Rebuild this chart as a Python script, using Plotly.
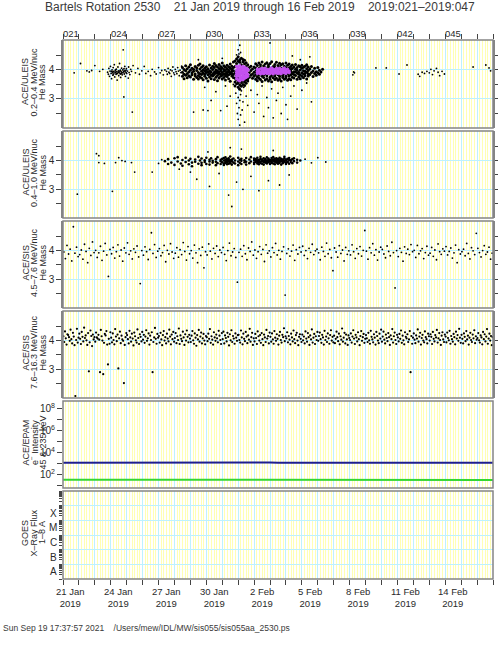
import plotly.graph_objects as go

# ---------------- data ----------------
day_ticks = list(range(21, 49))
top_label_days = [21, 24, 27, 30, 33, 36, 39, 42, 45]
top_labels = ["021", "024", "027", "030", "033", "036", "039", "042", "045"]
bottom_labels = ["21 Jan", "24 Jan", "27 Jan", "30 Jan", "2 Feb", "5 Feb", "8 Feb", "11 Feb", "14 Feb"]
bottom_year = "2019"

# Panel 1: ACE/ULEIS 0.2-0.4 MeV/nuc He mass (day-of-year, mass)
p1_sparse = [
    (21.7, 3.90), (22.1, 4.22), (22.5, 3.97), (22.65, 3.93), (22.8, 3.98), (23.0, 4.15), (23.3, 3.95), (23.5, 4.02),
    (23.80, 3.92), (23.85, 3.85), (23.88, 4.05), (23.92, 3.78), (23.95, 3.96), (23.98, 4.12), (24.02, 3.88), (24.05, 3.70),
    (24.08, 4.00), (24.10, 3.93), (24.13, 3.82), (24.15, 4.08), (24.18, 3.95), (24.20, 3.89), (24.22, 4.18), (24.25, 3.76),
    (24.28, 3.99), (24.30, 3.91), (24.33, 3.85), (24.35, 4.03), (24.38, 3.94), (24.40, 3.65), (24.42, 3.88), (24.45, 4.10),
    (24.48, 3.97), (24.50, 3.80), (24.52, 3.92), (24.55, 4.22), (24.58, 3.87), (24.60, 3.99), (24.62, 3.74), (24.65, 3.94),
    (24.68, 4.06), (24.70, 3.90), (24.72, 3.83), (24.75, 4.00), (24.78, 4.69), (24.80, 3.95), (24.82, 3.07), (24.85, 3.86),
    (24.88, 4.12), (24.90, 3.93), (24.92, 3.78), (24.95, 3.98), (24.98, 4.04), (25.00, 3.88), (25.05, 3.96), (25.10, 3.72),
    (25.12, 4.10), (25.15, 3.91), (25.20, 3.84), (25.25, 4.02), (25.30, 3.95), (25.35, 2.55), (25.40, 4.15),
    (24.03, 3.95), (24.12, 3.90), (24.27, 3.93), (24.37, 3.87), (24.47, 3.92), (24.57, 3.96), (24.67, 3.89), (24.77, 3.91),
    (24.87, 3.97), (24.97, 3.90), (24.17, 3.84), (24.32, 4.01), (24.63, 3.86), (24.83, 4.04),
    (25.55, 3.90), (25.7, 4.05), (25.8, 3.85), (25.95, 3.97), (26.1, 4.12), (26.2, 3.88), (26.35, 3.95), (26.5, 3.80),
    (26.6, 4.02), (26.75, 3.93), (26.85, 3.86), (27.0, 4.08), (27.1, 3.90), (27.2, 3.98), (27.3, 3.83), (27.4, 4.00),
    (27.5, 3.95), (27.55, 3.85), (27.6, 4.05), (27.65, 3.92), (27.7, 3.88), (27.75, 4.00), (27.8, 3.78), (27.85, 3.97),
    (27.9, 4.10), (27.95, 3.90), (28.0, 3.84), (28.05, 4.02), (28.1, 3.94), (28.15, 3.87), (28.2, 4.08), (28.25, 3.96),
    (28.3, 3.80), (28.35, 3.99), (28.4, 3.91), (28.45, 4.13),
    (29.2, 2.55), (29.8, 2.62), (30.1, 2.60), (29.9, 3.40), (30.3, 2.95), (30.6, 3.25), (30.9, 2.60), (31.2, 3.45),
    (31.3, 2.75), (31.5, 3.10), (31.7, 3.50), (31.85, 3.20), (31.9, 2.85), (31.95, 2.50), (32.0, 3.05), (32.0, 2.30),
    (32.05, 2.70), (32.05, 3.35), (32.1, 2.10), (32.1, 2.95), (32.15, 3.15), (32.15, 2.45), (32.2, 3.28), (32.25, 2.62),
    (32.3, 2.90), (32.35, 3.40), (32.4, 2.20), (32.5, 3.10), (32.6, 2.78), (32.8, 3.30), (33.0, 2.55), (33.2, 3.15),
    (33.3, 2.85), (33.5, 3.45), (33.6, 2.40), (33.8, 3.05), (33.9, 2.70), (34.1, 3.35), (34.2, 2.35), (34.4, 2.95),
    (34.5, 3.20), (34.7, 2.50), (34.8, 3.40), (35.0, 2.80), (35.1, 2.30), (35.3, 3.10), (35.5, 3.45), (35.7, 2.65),
    (36.0, 3.30), (36.3, 3.55), (36.6, 2.90),
    (32.0, 4.69), (32.05, 4.55), (31.95, 4.42), (32.1, 4.85), (32.15, 4.60), (31.9, 4.52), (34.0, 4.93), (35.4, 4.48),
    (36.5, 4.45), (35.9, 4.35), (31.0, 4.40), (29.5, 4.35),
    (39.25, 3.93), (39.3, 3.90), (39.2, 3.83), (40.65, 4.07), (41.3, 4.07), (42.1, 3.86), (42.6, 4.17),
    (43.3, 3.85), (43.4, 3.78), (43.55, 3.92), (43.7, 3.88), (43.85, 3.95), (44.0, 3.90), (44.1, 4.02), (44.2, 3.84),
    (44.3, 3.97), (44.45, 4.05), (44.55, 3.92), (44.65, 3.80), (44.8, 3.95), (44.95, 3.86),
    (46.75, 4.10), (47.55, 4.17), (47.75, 4.07), (47.85, 3.97),
]

p1_dense = [
    (28.5, [3.92, 3.78, 4.08]), (28.6, [3.85, 4.01, 3.70]), (28.7, [3.97, 4.14, 3.82]), (28.8, [3.88, 3.73, 4.04]),
    (28.9, [4.10, 3.93, 3.80]), (29.0, [3.76, 3.99, 4.18]), (29.1, [3.90, 3.83, 4.06]), (29.2, [4.02, 3.68, 3.95]),
    (29.3, [3.86, 4.12, 3.79]), (29.4, [3.98, 3.74, 4.07]), (29.5, [3.91, 4.16, 3.81, 3.69]), (29.6, [4.03, 3.87, 3.76, 4.20]),
    (29.7, [3.95, 3.72, 4.09, 3.84]), (29.8, [3.89, 4.14, 3.66, 4.00]), (29.9, [3.78, 3.96, 4.06, 3.85]),
    (30.0, [4.11, 3.91, 3.71, 3.99]), (30.1, [3.83, 4.04, 3.93, 3.62]), (30.2, [3.97, 3.76, 4.17, 3.88]),
    (30.3, [4.07, 3.82, 3.94, 3.70]), (30.4, [3.86, 4.01, 3.79, 4.13]), (30.5, [3.92, 3.67, 4.08, 3.84, 4.22]),
    (30.6, [4.00, 3.75, 3.89, 4.15, 3.95]), (30.7, [3.81, 4.10, 3.63, 3.97, 3.90]), (30.8, [4.05, 3.87, 3.72, 4.19, 3.93]),
    (30.9, [3.96, 3.78, 4.12, 3.85, 4.02]), (31.0, [3.69, 3.91, 4.07, 3.82, 4.24]), (31.1, [4.01, 3.86, 3.74, 4.14, 3.96]),
    (31.2, [3.88, 4.09, 3.65, 3.98, 3.80]), (31.3, [4.16, 3.92, 3.77, 4.04, 3.85]), (31.4, [3.83, 3.99, 4.11, 3.70, 3.94]),
    (31.5, [4.06, 3.87, 3.61, 4.20, 3.90]), (31.6, [3.95, 4.13, 3.79, 3.88, 4.02]), (31.7, [3.74, 3.97, 4.08, 3.84, 4.27]),
    (31.8, [3.58, 4.31, 3.90, 4.12, 3.71, 3.45]), (31.9, [4.38, 3.52, 3.81, 4.22, 3.66, 3.95]),
    (32.0, [3.40, 4.45, 3.63, 4.30, 3.74, 3.55]), (32.1, [4.35, 3.48, 3.86, 4.26, 3.60, 3.33]),
    (32.2, [3.57, 4.40, 3.70, 4.18, 3.44, 4.05]), (32.3, [4.28, 3.62, 3.92, 3.50, 4.36, 3.77]),
    (32.4, [3.46, 4.21, 3.68, 4.33, 3.85, 3.58]), (32.5, [4.25, 3.73, 3.54, 4.12, 3.95, 3.65]),
    (32.6, [3.80, 4.18, 3.62, 4.02, 3.70]), (32.7, [3.90, 4.08, 3.75]), (32.8, [3.98, 3.82, 4.13]),
    (32.9, [3.86, 4.03, 3.71]), (33.0, [4.10, 3.92, 3.78]), (33.1, [3.84, 4.06, 3.95, 3.68, 4.21]),
    (33.2, [4.15, 3.76, 3.99, 3.88, 3.63]), (33.3, [3.93, 4.24, 3.71, 4.05, 3.82]), (33.4, [3.67, 4.09, 3.89, 4.18, 3.96]),
    (33.5, [4.02, 3.78, 4.27, 3.85, 3.60]), (33.6, [3.91, 4.14, 3.74, 4.00, 3.83]), (33.7, [4.20, 3.87, 3.65, 4.08, 3.96]),
    (33.8, [3.80, 4.03, 4.25, 3.70, 3.93]), (33.9, [4.11, 3.89, 3.62, 3.98, 4.17]), (34.0, [3.86, 4.22, 3.75, 4.04, 3.68]),
    (34.1, [4.07, 3.94, 3.81, 4.28, 3.59]), (34.2, [3.73, 4.12, 3.90, 4.01, 3.84]), (34.3, [4.19, 3.67, 3.97, 3.79, 4.09]),
    (34.4, [3.92, 4.26, 3.71, 4.05, 3.88]), (34.5, [3.64, 4.00, 4.15, 3.83, 3.95]), (34.6, [4.10, 3.77, 3.91, 4.23, 3.69]),
    (34.7, [3.85, 4.06, 3.62, 3.99, 4.18]), (34.8, [4.02, 3.74, 4.21, 3.88, 3.80]), (34.9, [3.95, 4.13, 3.68, 4.04, 3.87]),
    (35.0, [3.78, 4.08, 3.93, 4.24, 3.72]), (35.1, [4.16, 3.86, 3.64, 3.98, 4.03]), (35.2, [3.91, 4.20, 3.79, 4.07, 3.70]),
    (35.3, [3.83, 3.97, 4.12, 3.66, 4.01]), (35.4, [4.05, 3.75, 3.90, 4.17, 3.87]), (35.5, [3.94, 4.10, 3.72, 3.84]),
    (35.6, [3.81, 4.02, 4.19, 3.93]), (35.7, [4.08, 3.89, 3.68, 3.99]), (35.8, [3.76, 4.14, 3.92, 3.85]),
    (35.9, [4.00, 3.83, 4.11, 3.70]), (36.0, [3.90, 4.06, 3.78, 4.16]), (36.1, [3.86, 3.97, 4.09, 3.73]),
    (36.2, [4.13, 3.80, 3.95, 3.88]), (36.3, [3.92, 4.04, 3.69, 4.18]), (36.4, [3.79, 3.98, 4.10, 3.87]),
    (36.5, [4.03, 3.84]), (36.6, [3.91, 4.12]), (36.7, [3.77, 3.96]), (36.8, [4.06, 3.88]), (36.9, [3.94, 3.82]),
    (37.0, [4.08, 3.90]), (37.1, [3.85, 3.99]), (37.2, [3.93]), (37.3, [4.02]),
]

p1_magenta = [
    (31.9, [3.70, 3.85, 4.00, 4.12, 3.92, 3.78]), (32.0, [3.65, 3.80, 3.95, 4.10, 4.05, 3.88]),
    (32.1, [3.72, 3.90, 4.15, 3.83, 4.02, 3.62]), (32.2, [3.68, 3.87, 3.98, 4.08, 3.76, 3.94]),
    (32.3, [3.75, 3.92, 4.12, 3.84, 4.04, 3.66]), (32.4, [3.71, 3.89, 4.01, 4.09, 3.79, 3.96]),
    (32.5, [3.82, 3.95, 4.06, 3.74, 3.90]), (32.6, [3.86, 3.99, 3.78, 4.03]),
    (33.2, [3.95, 4.03, 3.88]), (33.3, [3.90, 4.00, 3.97]), (33.4, [4.04, 3.92, 3.86]), (33.5, [3.96, 3.89, 4.05]),
    (33.6, [4.01, 3.93, 3.87]), (33.7, [3.91, 4.06, 3.98]), (33.8, [3.94, 4.02, 3.88]), (33.9, [4.00, 3.90, 3.96]),
    (34.0, [3.87, 4.04, 3.93]), (34.1, [3.98, 3.91, 4.07]), (34.2, [4.03, 3.95, 3.86]), (34.3, [3.92, 4.00, 3.97]),
    (34.4, [3.89, 4.05, 3.94]), (34.5, [4.01, 3.96, 3.88]), (34.6, [3.93, 4.06, 3.90]), (34.7, [3.97, 3.87, 4.02]),
    (34.8, [4.04, 3.92, 3.95]), (34.9, [3.90, 3.99, 4.07]), (35.0, [3.95, 3.88, 4.01]), (35.1, [4.03, 3.93]),
    (35.2, [3.96, 3.91]),
]

# Panel 2: ACE/ULEIS 0.4-1.0 MeV/nuc He mass
p2_sparse = [
    (21.9, 2.83), (23.1, 4.24), (23.25, 4.17), (23.25, 3.93), (23.6, 3.90), (24.1, 2.93), (24.3, 3.93), (24.5, 4.10),
    (24.7, 4.00), (24.9, 3.97), (25.3, 3.93), (25.5, 3.60), (26.6, 3.60), (27.0, 3.90), (27.2, 4.03),
    (29.4, 3.35), (30.2, 3.10), (30.8, 3.55), (31.4, 2.80), (31.6, 2.40), (31.9, 3.25), (32.3, 3.00), (32.8, 3.45),
    (33.3, 2.95), (33.9, 3.30), (34.6, 3.15), (35.2, 3.50), (29.0, 3.60), (28.3, 3.70),
    (31.5, 4.45), (32.2, 4.40), (34.2, 4.35), (30.1, 4.30),
    (36.2, 4.05), (36.6, 3.92), (37.0, 4.10), (37.5, 3.95),
]
p2_dense = [
    (27.4, [3.98]), (27.6, [4.05, 3.88]), (27.8, [3.93]), (28.0, [4.08, 3.85]), (28.2, [3.97, 4.12]), (28.4, [3.90]),
    (28.5, [4.02, 3.82]), (28.7, [3.95, 4.10]), (28.9, [3.87, 4.00]), (29.0, [4.06]), (29.1, [3.93, 3.80]),
    (29.3, [4.04, 3.96]), (29.5, [3.89, 4.13]), (29.6, [4.00]), (29.7, [3.92, 3.84, 4.07]), (29.9, [4.01, 3.95]),
    (30.0, [3.88, 4.10]), (30.2, [3.97, 4.03, 3.86]), (30.3, [4.08]), (30.4, [3.93, 3.99]), (30.6, [4.05, 3.84, 3.96]),
    (30.7, [4.12, 3.91]), (30.9, [3.98, 4.03, 3.88]), (31.0, [3.94, 4.06]), (31.1, [4.00, 3.90, 4.09, 3.85]),
    (31.2, [3.96, 4.03, 3.92, 4.11]), (31.3, [3.99, 3.87, 4.05, 3.94]), (31.4, [4.02, 3.97, 3.89, 4.08]),
    (31.5, [3.95, 4.01, 4.14, 3.91]), (31.6, [3.98, 4.04, 3.86]), (31.7, [4.07, 3.93]), (31.8, [3.90, 4.00]),
    (32.0, [3.97, 4.10, 3.84]), (32.1, [4.03, 3.92]), (32.2, [3.88, 4.06, 3.99]), (32.4, [4.01, 3.94]),
    (32.5, [3.86, 4.09, 3.96]), (32.7, [4.04, 3.91]), (32.8, [3.97, 4.12]), (33.0, [3.93, 4.02, 3.88, 4.07]),
    (33.1, [3.99, 3.95, 4.05]), (33.2, [4.01, 3.90, 4.10, 3.96]), (33.3, [3.94, 4.03, 3.87, 4.00]),
    (33.4, [4.06, 3.97, 3.92, 4.13]), (33.5, [3.98, 4.02, 3.89, 4.04]), (33.6, [3.95, 4.08, 3.99, 3.86]),
    (33.7, [4.01, 3.93, 4.05, 3.97]), (33.8, [3.90, 4.00, 4.11, 3.96]), (33.9, [4.03, 3.94, 3.98, 4.07]),
    (34.0, [3.97, 4.02, 3.88, 4.00]), (34.1, [4.09, 3.95, 4.01, 3.92]), (34.2, [3.99, 4.04, 3.90, 4.12]),
    (34.3, [3.96, 4.00, 4.06, 3.87]), (34.4, [4.02, 3.93, 3.98, 4.08]), (34.5, [3.94, 4.05, 4.00, 3.89]),
    (34.6, [4.01, 3.97, 4.10, 3.92]), (34.7, [3.98, 4.03, 3.86, 4.06]), (34.8, [4.04, 3.95, 4.00, 3.91]),
    (34.9, [3.96, 4.07, 3.99, 4.13]), (35.0, [4.00, 3.92, 4.04, 3.88]), (35.1, [3.97, 4.06, 3.94]),
    (35.2, [4.02, 3.89, 4.09]), (35.3, [3.95, 4.01]), (35.4, [4.05, 3.91]), (35.5, [3.98, 4.08]),
    (35.7, [3.93, 4.03]), (35.9, [4.00]),
]

# Panel 3: ACE/SIS 4.5-7.6 MeV/nuc He mass, one row of readings per day (21 .. 47)
p3_rows = [
    [3.95, 3.72, 4.18, 3.88, 4.05, 3.64, 4.83, 3.91, 4.12, 3.79],
    [3.86, 4.02, 3.70, 4.22, 3.97, 3.58, 4.08, 3.83, 4.30, 3.93],
    [4.01, 3.76, 3.92, 4.15, 3.66, 3.98, 4.25, 3.85, 3.10, 4.04],
    [3.89, 4.11, 3.74, 3.96, 4.20, 3.81, 4.02, 3.63, 4.09, 3.92],
    [4.27, 3.87, 3.99, 3.71, 4.06, 3.94, 4.16, 3.78, 2.85, 4.00],
    [3.84, 4.13, 3.96, 3.69, 4.04, 4.62, 3.90, 4.21, 3.76, 3.98],
    [4.07, 3.82, 3.93, 4.18, 3.61, 4.01, 3.88, 4.24, 3.95, 3.73],
    [3.91, 4.10, 3.77, 4.03, 3.86, 4.28, 3.97, 3.67, 4.14, 3.89],
    [4.00, 3.74, 4.19, 3.92, 3.58, 4.06, 3.83, 4.12, 3.40, 3.96],
    [3.85, 4.23, 3.98, 3.71, 4.08, 3.90, 4.16, 3.79, 4.02, 3.93],
    [4.11, 3.87, 3.65, 4.00, 4.26, 3.82, 3.95, 4.07, 3.76, 2.90],
    [3.94, 4.05, 3.80, 4.17, 3.89, 3.68, 4.09, 3.97, 4.30, 3.84],
    [4.02, 3.73, 3.96, 4.14, 3.87, 4.04, 3.62, 4.20, 3.91, 3.99],
    [3.78, 4.10, 3.93, 4.25, 3.85, 4.01, 3.70, 3.97, 4.13, 2.45],
    [3.90, 4.06, 3.81, 3.98, 4.19, 3.66, 4.03, 3.88, 4.11, 3.95],
    [4.15, 3.83, 4.00, 3.72, 4.08, 3.94, 4.22, 3.86, 3.99, 4.05],
    [3.92, 3.68, 4.12, 3.97, 3.80, 4.26, 3.89, 4.04, 3.75, 3.30],
    [4.09, 3.95, 3.77, 4.17, 3.90, 4.02, 3.64, 4.11, 3.87, 3.99],
    [3.85, 4.20, 3.96, 3.73, 4.07, 3.89, 4.14, 3.81, 4.01, 4.70],
    [3.98, 3.70, 4.10, 3.92, 4.24, 3.84, 4.03, 3.67, 3.95, 4.12],
    [4.04, 3.88, 3.75, 4.16, 3.97, 3.82, 4.29, 3.93, 2.70, 4.00],
    [3.79, 4.08, 3.94, 3.63, 4.13, 3.90, 4.05, 3.86, 4.21, 3.96],
    [4.01, 3.76, 4.18, 3.89, 3.99, 4.07, 3.72, 3.93, 4.15, 3.84],
    [3.91, 4.11, 3.80, 4.02, 3.68, 4.23, 3.96, 3.87, 4.06, 3.98],
    [4.14, 3.85, 3.97, 4.09, 3.74, 3.92, 4.19, 3.58, 4.03, 3.88],
    [3.96, 4.05, 3.82, 4.25, 3.90, 3.71, 4.10, 3.99, 3.86, 4.60],
    [4.08, 3.93, 3.78, 4.00, 4.17, 3.87, 3.95, 4.12, 3.70, 3.91],
]

# Panel 4: ACE/SIS 7.6-16.3 MeV/nuc He mass, one row of readings per day (21 .. 47)
p4_rows = [
    [4.15, 3.95, 4.32, 4.08, 3.86, 4.22, 4.19, 4.12, 3.99, 4.38, 4.05, 3.90, 4.27, 4.14, 3.84, 2.07, 4.02, 4.41, 3.93, 4.10],
    [4.24, 4.06, 3.88, 4.30, 4.13, 3.97, 4.45, 4.09, 4.18, 4.01, 3.85, 4.26, 2.93, 3.94, 4.35, 4.16, 3.81, 4.21, 4.04, 4.12],
    [3.96, 4.28, 4.11, 4.07, 4.20, 4.03, 2.90, 4.37, 4.15, 4.00, 2.83, 3.92, 4.23, 4.18, 4.33, 3.86, 3.17, 4.06, 3.89, 4.29],
    [4.10, 3.94, 4.25, 4.02, 3.87, 4.40, 4.14, 3.98, 4.21, 3.03, 4.08, 4.31, 3.91, 4.17, 4.04, 3.99, 2.52, 3.85, 4.12, 4.26],
    [4.19, 4.05, 3.90, 4.34, 4.11, 3.96, 4.24, 4.07, 3.83, 4.28, 4.15, 4.01, 3.93, 4.39, 4.09, 3.88, 4.22, 4.13, 3.97, 4.30],
    [4.03, 4.20, 3.92, 4.14, 4.36, 3.99, 4.08, 4.25, 3.86, 4.17, 4.02, 4.29, 2.90, 3.95, 4.11, 4.44, 4.06, 3.89, 4.23, 4.10],
    [4.16, 3.93, 4.27, 4.04, 3.84, 4.19, 4.33, 4.00, 4.12, 3.90, 4.24, 4.07, 3.97, 4.38, 4.14, 3.87, 4.21, 4.05, 4.30, 3.96],
    [4.09, 4.26, 3.91, 4.15, 4.02, 4.42, 3.88, 4.18, 4.06, 3.98, 4.31, 4.11, 3.85, 4.22, 4.00, 4.35, 4.13, 3.94, 4.20, 4.07],
    [3.95, 4.17, 4.33, 4.01, 3.89, 4.25, 4.10, 3.82, 4.19, 4.04, 4.37, 3.96, 4.14, 4.28, 3.90, 4.08, 4.23, 4.00, 3.87, 4.16],
    [4.12, 3.98, 4.24, 4.06, 4.40, 3.92, 4.15, 4.03, 3.86, 4.29, 4.11, 3.99, 4.21, 4.08, 3.94, 4.34, 4.17, 4.02, 3.88, 4.26],
    [4.05, 4.31, 3.90, 4.18, 4.09, 3.97, 4.27, 4.13, 3.83, 4.22, 4.01, 4.36, 3.95, 4.16, 4.07, 3.89, 4.25, 4.10, 3.99, 4.19],
    [4.20, 4.02, 3.93, 4.35, 4.11, 3.87, 4.24, 4.06, 3.98, 4.30, 4.14, 3.91, 4.18, 4.03, 4.41, 3.96, 4.12, 4.27, 3.85, 4.08],
    [3.97, 4.23, 4.09, 3.88, 4.32, 4.15, 4.00, 4.19, 3.92, 4.26, 4.05, 3.84, 4.21, 4.11, 3.95, 4.37, 4.07, 4.16, 3.90, 4.28],
    [4.13, 3.96, 4.25, 4.04, 3.89, 4.33, 4.10, 3.99, 4.22, 4.06, 3.86, 4.17, 4.30, 4.02, 3.93, 4.20, 4.12, 4.43, 3.98, 4.15],
    [4.08, 4.29, 3.94, 4.16, 4.03, 3.87, 4.24, 4.11, 3.97, 4.35, 4.05, 3.91, 4.19, 4.27, 4.00, 3.84, 4.13, 4.22, 4.06, 3.95],
    [4.21, 4.01, 4.14, 3.90, 4.32, 4.07, 3.96, 4.26, 4.12, 3.85, 4.18, 4.04, 4.39, 3.93, 4.10, 4.23, 3.88, 4.15, 4.02, 4.30],
    [3.99, 4.16, 4.28, 4.05, 3.92, 4.20, 4.11, 3.86, 4.34, 4.02, 4.14, 3.95, 4.25, 4.08, 3.89, 4.19, 4.36, 4.00, 4.13, 3.94],
    [4.17, 3.91, 4.06, 4.31, 4.12, 3.98, 4.24, 3.87, 4.15, 4.03, 4.42, 3.96, 4.10, 4.27, 3.90, 4.21, 4.04, 3.85, 4.18, 4.09],
    [4.02, 4.25, 3.93, 4.14, 4.36, 4.07, 3.88, 4.20, 4.11, 3.97, 4.29, 4.05, 3.84, 4.16, 4.33, 3.99, 4.12, 4.23, 3.92, 4.06],
    [4.19, 4.08, 3.95, 4.27, 4.01, 3.89, 4.34, 4.13, 4.04, 3.94, 4.22, 4.10, 3.86, 4.30, 4.16, 4.00, 3.91, 4.24, 4.07, 4.38],
    [3.96, 4.14, 4.31, 4.03, 3.90, 4.21, 4.09, 3.98, 4.26, 4.12, 3.85, 4.18, 4.05, 4.40, 3.93, 4.15, 4.28, 4.02, 3.88, 4.20],
    [4.11, 3.97, 4.23, 4.06, 4.35, 3.92, 4.17, 4.01, 3.87, 4.29, 4.13, 4.08, 4.22, 3.95, 4.04, 4.33, 2.90, 4.16, 3.89, 4.10],
    [4.25, 4.03, 3.91, 4.18, 4.07, 4.39, 3.96, 4.14, 4.27, 3.86, 4.09, 4.20, 4.00, 3.94, 4.32, 4.12, 4.05, 3.90, 4.24, 4.15],
    [4.00, 4.22, 4.13, 3.88, 4.30, 4.06, 3.97, 4.19, 4.11, 4.37, 3.93, 4.08, 4.26, 4.02, 3.85, 4.17, 4.29, 4.04, 3.95, 4.21],
    [4.14, 3.94, 4.28, 4.09, 4.01, 4.34, 3.89, 4.16, 4.05, 3.96, 4.23, 4.12, 3.87, 4.31, 4.07, 4.19, 3.99, 4.41, 4.10, 3.92],
    [4.20, 4.06, 3.90, 4.25, 4.13, 3.98, 4.33, 4.04, 4.17, 3.86, 4.10, 4.27, 4.02, 3.95, 4.21, 4.08, 4.36, 3.91, 4.15, 4.03],
    [4.09, 4.26, 4.01, 3.93, 4.18, 4.11, 3.87, 4.30, 4.05, 4.22, 3.97, 4.14, 4.40, 3.89, 4.07, 4.24, 4.00, 4.16, 3.84, 4.12],
]

# Panel 5: ACE/EPAM electron intensity, readings every half day from 21 Jan 00:00
p5_blue = [1250, 1260, 1240, 1270, 1230, 1180, 1200, 1220, 1250, 1260, 1280, 1300, 1290, 1270, 1260, 1300,
           1320, 1310, 1290, 1280, 1270, 1260, 1250, 1270, 1290, 1300, 1280, 1260, 1250, 1240, 1230, 1250,
           1270, 1260, 1250, 1240, 1230, 1250, 1260, 1280, 1300, 1330, 1290, 1200, 1180, 1210, 1240, 1250,
           1260, 1240, 1230, 1250, 1260, 1250, 1240]
p5_green = [36, 36, 35, 36, 36, 33, 33, 34, 33, 33, 34, 34, 33, 33, 34, 34, 33, 34, 34, 33, 33, 34, 34, 33,
            33, 34, 34, 33, 34, 34, 33, 33, 34, 34, 33, 34, 34, 33, 33, 34, 34, 33, 33, 34, 34, 33, 34, 34,
            33, 33, 34, 34, 33, 34, 34]

goes_labels = ["A", "B", "C", "M", "X"]
goes_label_log = [-8.5, -7.5, -6.5, -5.5, -4.5]

panel_titles = [
    ["ACE/ULEIS", "0.2\u20130.4 MeV/nuc", "He Mass"],
    ["ACE/ULEIS", "0.4\u20131.0 MeV/nuc", "He Mass"],
    ["ACE/SIS", "4.5\u20137.6 MeV/nuc", "He Mass"],
    ["ACE/SIS", "7.6\u201316.3 MeV/nuc", "He Mass"],
    ["ACE/EPAM", "e<sup>\u2212</sup> Intensity", "45 & 235 keV"],
    ["GOES", "X\u2013Ray Flux", "1\u20138 A"],
]

title_text = "Bartels Rotation 2530    21 Jan 2019 through 16 Feb 2019    2019:021\u20132019:047"
footer_text = "Sun Sep 19 17:37:57 2021    /Users/mew/IDL/MW/sis055/sis055aa_2530.ps"

# ---------------- layout geometry ----------------
W, H = 498, 647
L, R, T, B = 63, 493, 40, 579
panels_px = [(40, 128), (131, 218), (221, 308), (311, 398), (401, 488), (491, 579)]


def xp(px):
    return (px - L) / (R - L)


def yp(py):
    return (B - py) / (B - T)


FONT = "Liberation Sans, Arial, sans-serif"
TXT = "#2a2a2a"
CYAN = "#bdf1ff"
YEL = "#ffffb4"
FRAME = "#858585"
TICK = "#444444"


def expand(cols):
    xs, ys = [], []
    for d, vals in cols:
        for v in vals:
            xs.append(d)
            ys.append(v)
    return xs, ys


def rows_to_xy(rows, first_day=21):
    xs, ys = [], []
    for i, row in enumerate(rows):
        n = len(row)
        for j, v in enumerate(row):
            xs.append(first_day + i + (j + 0.5) / n)
            ys.append(v)
    return xs, ys


fig = go.Figure()
dot = dict(color="black", size=1.8, line=dict(width=0))

# panel 1
x, y = zip(*p1_sparse)
fig.add_trace(go.Scatter(x=x, y=y, mode="markers", marker=dot, xaxis="x", yaxis="y"))
x, y = expand(p1_dense)
fig.add_trace(go.Scatter(x=x, y=y, mode="markers", marker=dict(color="black", size=3, line=dict(width=0)),
                         xaxis="x", yaxis="y"))
x, y = expand(p1_magenta)
fig.add_trace(go.Scatter(x=x, y=y, mode="markers", marker=dict(color="#c452f0", size=3.2, line=dict(width=0)),
                         xaxis="x", yaxis="y"))
# panel 2
x, y = zip(*p2_sparse)
fig.add_trace(go.Scatter(x=x, y=y, mode="markers", marker=dot, xaxis="x2", yaxis="y2"))
x, y = expand(p2_dense)
fig.add_trace(go.Scatter(x=x, y=y, mode="markers", marker=dict(color="black", size=2.6, line=dict(width=0)),
                         xaxis="x2", yaxis="y2"))
# panel 3
x, y = rows_to_xy(p3_rows)
fig.add_trace(go.Scatter(x=x, y=y, mode="markers", marker=dot, xaxis="x3", yaxis="y3"))
# panel 4
x, y = rows_to_xy(p4_rows)
fig.add_trace(go.Scatter(x=x, y=y, mode="markers", marker=dict(color="black", size=2.2, line=dict(width=0)),
                         xaxis="x4", yaxis="y4"))
# panel 5
p5_day = [21 + 0.5 * i for i in range(len(p5_blue))]
fig.add_trace(go.Scatter(x=p5_day, y=p5_blue, mode="lines", line=dict(color="#1f1f8f", width=2), xaxis="x5", yaxis="y5"))
fig.add_trace(go.Scatter(x=p5_day, y=p5_green, mode="lines", line=dict(color="#33d633", width=2), xaxis="x5", yaxis="y5"))
# panel 6: (no GOES data) invisible anchor traces
fig.add_trace(go.Scatter(x=[21], y=[1e-6], mode="markers", marker=dict(opacity=0), xaxis="x6", yaxis="y6"))
fig.add_trace(go.Scatter(x=[21], y=[1e-6], mode="markers", marker=dict(opacity=0), xaxis="x7", yaxis="y6"))
fig.add_trace(go.Scatter(x=[21], y=[1e-6], mode="markers", marker=dict(opacity=0), xaxis="x6", yaxis="y7"))

minor_x = [d + k / 6 for d in range(21, 48) for k in range(1, 6)]

layout = dict(
    width=W, height=H,
    margin=dict(l=L, r=W - R, t=T, b=H - B, pad=0, autoexpand=False),
    paper_bgcolor="white", plot_bgcolor="white",
    showlegend=False,
    font=dict(family=FONT, color=TXT, size=10),
)

shapes = []
for i, (top, bot) in enumerate(panels_px):
    n = i + 1
    xs = "" if n == 1 else str(n)
    xa = dict(
        domain=[0, 1], range=[21, 48], anchor="y" + xs, automargin=False,
        tickmode="array", tickvals=day_ticks, showticklabels=False,
        showgrid=True, gridcolor=CYAN, gridwidth=1,
        minor=dict(tickmode="array", tickvals=minor_x, showgrid=True, gridcolor=YEL, gridwidth=1,
                   ticks="", ticklen=0, tickwidth=0),
        showline=False, zeroline=False,
        ticks="", ticklen=5, tickcolor=TICK, tickwidth=1,
    )
    if n == 1:
        xa.update(side="top", ticks="outside")
    if n > 1:
        xa["matches"] = "x"
    ya = dict(
        domain=[yp(bot), yp(top)], anchor="x" + xs, automargin=False,
        zeroline=False, ticks="outside", ticklen=5, tickcolor=TICK, tickwidth=1,
        tickfont=dict(size=10, color=TXT, family=FONT),
    )
    if n <= 4:
        ya.update(range=[2.0, 5.03], tickmode="array", tickvals=[3, 4], ticktext=["3", "4"],
                  showline=True, linecolor=FRAME, linewidth=1.5, mirror="ticks",
                  showgrid=True, gridcolor=CYAN, gridwidth=1,
                  minor=dict(tickmode="array", tickvals=[2.5, 3.5, 4.5], ticks="outside", ticklen=5,
                             tickcolor=TICK, showgrid=False))
    elif n == 5:
        ya.update(type="log", range=[0.8, 8.7], tickmode="array",
                  tickvals=[1e1, 1e2, 1e3, 1e4, 1e5, 1e6, 1e7, 1e8],
                  ticktext=["", "10<sup>2</sup>", "", "10<sup>4</sup>", "", "10<sup>6</sup>", "", "10<sup>8</sup>"],
                  showline=False, mirror=False, showgrid=False)
    else:
        ya.update(type="log", range=[-9, -3], tickmode="array", tickvals=[1e-8, 1e-7, 1e-6, 1e-5, 1e-4],
                  showticklabels=False, ticks="", showline=False, mirror=False,
                  showgrid=True, gridcolor=CYAN, gridwidth=1)
    layout["xaxis" + xs] = xa
    layout["yaxis" + xs] = ya
    # panel frame
    shapes.append(dict(type="rect", xref="paper", yref="paper", x0=0, x1=1, y0=yp(bot), y1=yp(top),
                       line=dict(color=FRAME, width=1.5), fillcolor="rgba(0,0,0,0)", layer="above"))

# bottom day ticks of the lowest panel on a plain overlay axis
layout["xaxis7"] = dict(
    domain=[0, 1], range=[21, 48], anchor="y6", overlaying="x6", matches="x", side="bottom",
    automargin=False, tickmode="array", tickvals=day_ticks, showticklabels=False,
    ticks="outside", ticklen=5, tickcolor=TICK, tickwidth=1,
    showgrid=False, showline=False, zeroline=False,
)
# GOES flux ruler ticks (decades and 2..9 subdivisions) on a plain overlay axis
goes_ruler = [m * 10 ** e for e in range(-9, -3) for m in range(1, 10)]
layout["yaxis7"] = dict(
    type="log", range=[-9, -3], anchor="x6", overlaying="y6", side="left", automargin=False,
    tickmode="array", tickvals=goes_ruler, showticklabels=False,
    ticks="outside", ticklen=3, tickcolor=TICK, tickwidth=1,
    showgrid=False, showline=False, zeroline=False, mirror=False,
)
layout["shapes"] = shapes

ann = []
ann.append(dict(text=title_text.replace(" ", "\u00a0"), x=xp(260), y=yp(7), xref="paper", yref="paper",
                xanchor="center", yanchor="middle", showarrow=False,
                font=dict(size=12, color="#3a3a3a", family=FONT)))
ann.append(dict(text=footer_text.replace(" ", "\u00a0"), x=xp(1), y=yp(628), xref="paper", yref="paper",
                xanchor="left", yanchor="middle", showarrow=False,
                font=dict(size=8.5, color="#3a3a3a", family=FONT)))
for d, t in zip(top_label_days, top_labels):
    ann.append(dict(text=t, x=d + 0.5, y=yp(33), xref="x", yref="paper", xanchor="center", yanchor="middle",
                    showarrow=False, font=dict(size=9.5, color=TXT, family=FONT)))
for d, t in zip(top_label_days, bottom_labels):
    ann.append(dict(text=t + "<br>" + bottom_year, x=d + 0.5, y=yp(597), xref="x", yref="paper",
                    xanchor="center", yanchor="middle", showarrow=False,
                    font=dict(size=9.5, color=TXT, family=FONT)))
for i, (top, bot) in enumerate(panels_px):
    cy = (top + bot) / 2 - 2
    for k, (line, px) in enumerate(zip(panel_titles[i], [25, 33.5, 42])):
        ann.append(dict(text=line, x=xp(px), y=yp(cy), xref="paper", yref="paper", textangle=-90,
                        xanchor="center", yanchor="middle", showarrow=False,
                        font=dict(size=9, color=TXT, family=FONT)))
for lab, lv in zip(goes_labels, goes_label_log):
    ann.append(dict(text=lab, x=xp(53), y=lv, xref="paper", yref="y6", xanchor="center", yanchor="middle",
                    showarrow=False, font=dict(size=10, color=TXT, family=FONT)))
layout["annotations"] = ann

fig.update_layout(**layout)
fig.write_html("out.html", config={"displayModeBar": False},
               post_script="document.body.style.margin='0px';")
